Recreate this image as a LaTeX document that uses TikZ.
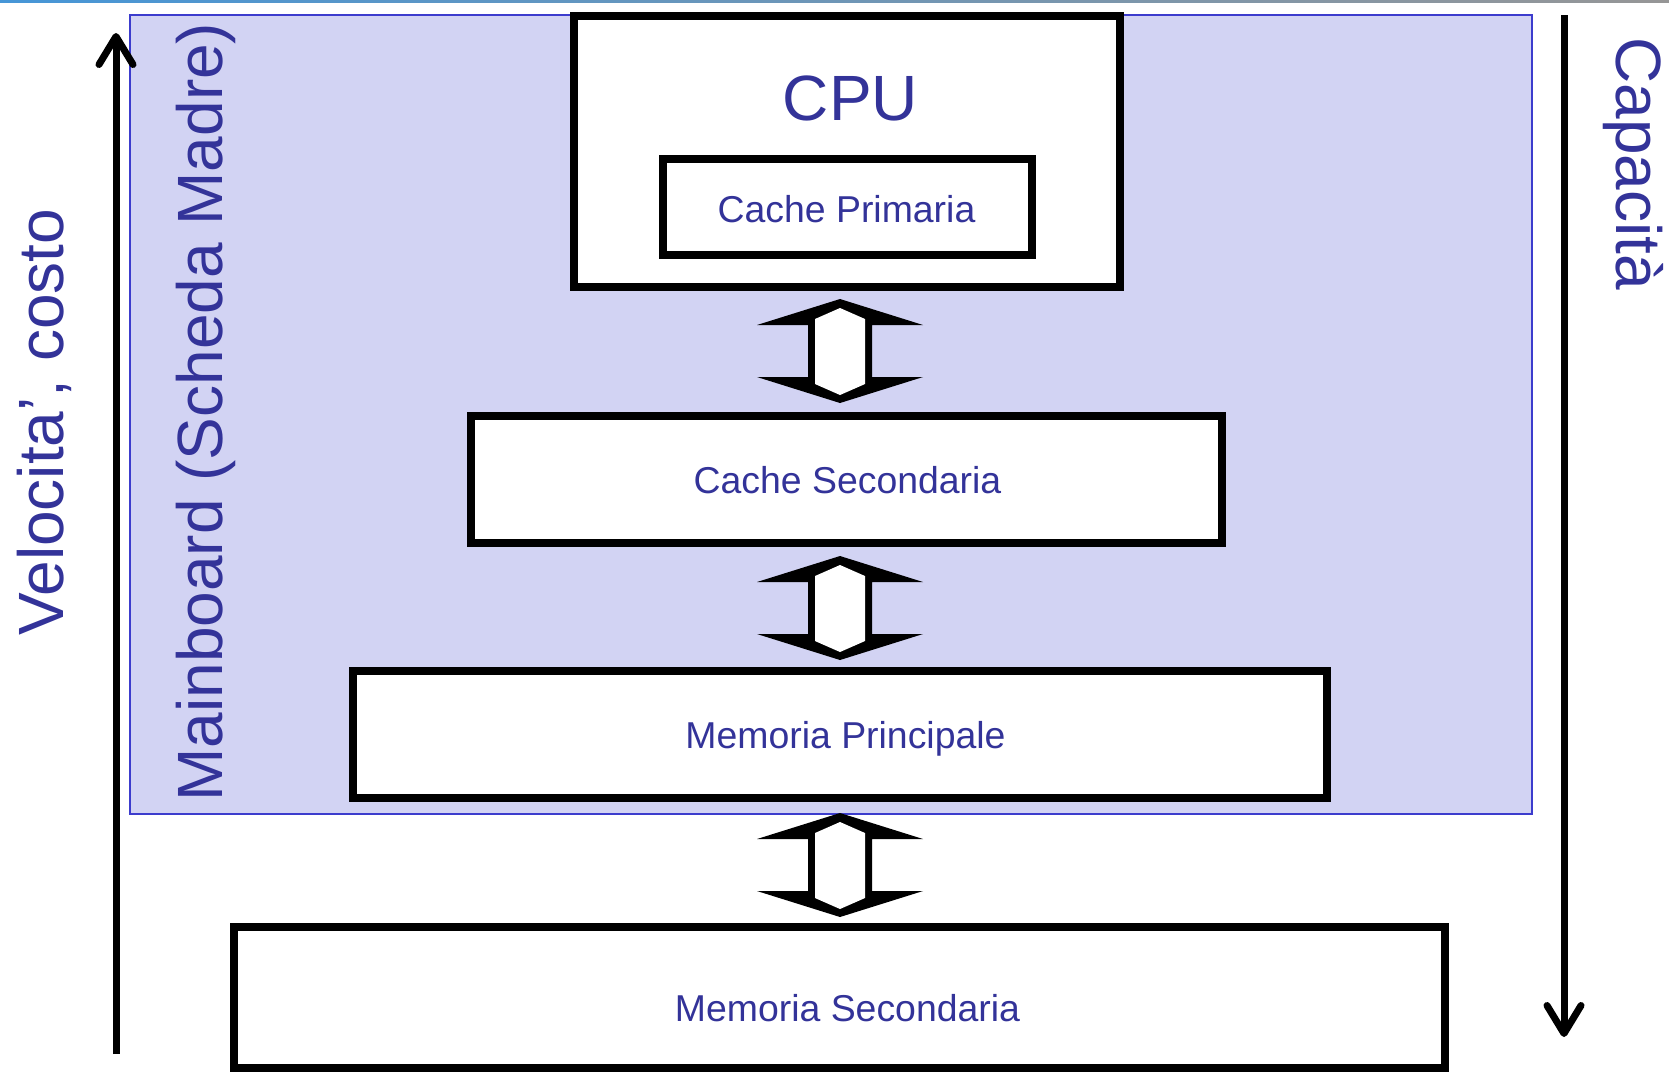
\documentclass[tikz,border=0pt]{standalone}
\usepackage{fontspec}
\usetikzlibrary{arrows.meta}
\newfontfamily\lab{Liberation Sans}
\definecolor{txtblue}{RGB}{51,51,153}
\definecolor{boardfill}{RGB}{210,211,243}
\definecolor{boardline}{RGB}{60,60,205}
\definecolor{rulebl}{RGB}{70,150,215}
\definecolor{rulegr}{RGB}{150,150,150}

\begin{document}
\begin{tikzpicture}[x=0.5pt,y=-0.5pt,
  box/.style={draw=black, fill=white, line width=4.25pt, inner sep=0pt},
  lbl/.style={text=txtblue, font=\lab\fontsize{18.7pt}{22pt}\selectfont, inner sep=0pt, anchor=base},
  big/.style={text=txtblue, font=\lab\fontsize{32pt}{36pt}\selectfont, inner sep=0pt},
  scalearrow/.style={line width=3.5pt, -{Straight Barb[length=14pt,width=17pt,round]}},
  updown/.pic={
    \fill[black] (0,0) -- (83,26) -- (32,26) -- (32,78) -- (83,78) -- (0,104)
      -- (-83,78) -- (-32,78) -- (-32,26) -- (-83,26) -- cycle;
    \fill[white] (0,9) -- (25,20) -- (25,85) -- (0,96) -- (-25,85) -- (-25,20) -- cycle;
  }
]
\useasboundingbox (0,0) rectangle (1669,1073);

% thin rule along the top edge
\shade[left color=rulebl, right color=rulegr] (0,0) rectangle (1669,2.5);

% mainboard area
\node[draw=boardline, fill=boardfill, line width=1pt, inner sep=0pt,
      minimum width=701pt, minimum height=399.5pt] (board) at (831,414.5) {};

% memory hierarchy boxes
\node[box, minimum width=273pt, minimum height=135.5pt] (cpu) at (847,151.5) {};
\node[box, minimum width=184.5pt, minimum height=48pt] (l1) at (847.5,207) {};
\node[box, minimum width=375.5pt, minimum height=63.5pt] (l2) at (846.5,479.5) {};
\node[box, minimum width=487pt, minimum height=63.5pt] (ram) at (840,734.5) {};
\node[box, minimum width=605.5pt, minimum height=70.5pt] (disk) at (839.5,997.5) {};

% labels
\node[big, anchor=base] (cpuL) at (850.5,120) {CPU};
\node[lbl] (l1L) at (846.5,222) {Cache Primaria};
\node[lbl] (l2L) at (847.5,493) {Cache Secondaria};
\node[lbl] (ramL) at (845.5,748) {Memoria Principale};
\node[lbl] (diskL) at (847.5,1021) {Memoria Secondaria};

% two-way transfer arrows between levels
\pic (t1) at (840,299) {updown};
\pic (t2) at (840,556) {updown};
\pic (t3) at (840,813) {updown};

% speed / cost axis
\coordinate (vlo) at (116,1054);
\coordinate (vhi) at (116,33);
\draw[scalearrow] (vlo) -- (vhi);
\node[big, rotate=90, anchor=base west] (vel) at (63,636) {Velocita’, costo};

% mainboard caption
\node[big, rotate=90, anchor=base west] (mb) at (222,802) {Mainboard (Scheda Madre)};

% capacity axis
\coordinate (chi) at (1564,15);
\coordinate (clo) at (1564,1037);
\draw[scalearrow] (chi) -- (clo);
\node[big, rotate=-90, anchor=base west] (cap) at (1616,37) {Capacità};
\end{tikzpicture}
\end{document}
